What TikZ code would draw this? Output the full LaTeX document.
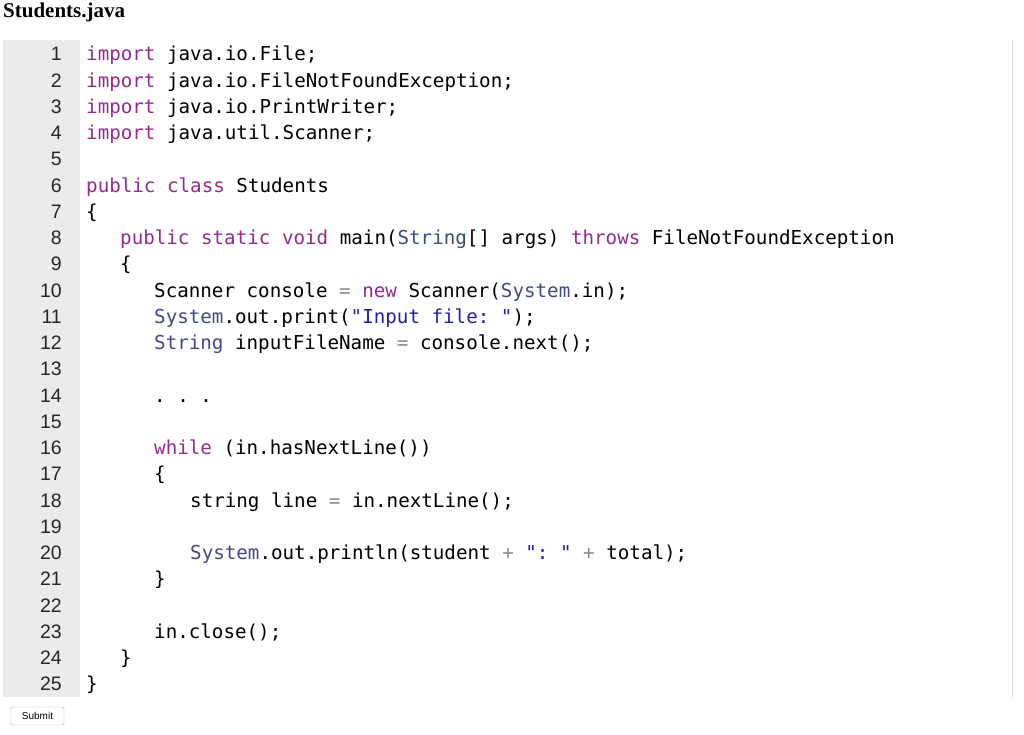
\documentclass[tikz,border=0pt]{standalone}
\usepackage{fontspec}
\setmainfont{Liberation Serif}
\setsansfont{Liberation Sans}
\setmonofont{DejaVu Sans Mono}
\definecolor{kw}{HTML}{932C8C}
\definecolor{ty}{HTML}{3F4E80}
\definecolor{st}{HTML}{2323A0}
\definecolor{op}{HTML}{8A8A8A}
\definecolor{gut}{HTML}{EBEBEB}
\newcommand{\kw}[1]{\textcolor{kw}{#1}}
\newcommand{\ty}[1]{\textcolor{ty}{#1}}
\newcommand{\stl}[1]{\textcolor{st}{#1}}
\newcommand{\opr}[1]{\textcolor{op}{#1}}
\begin{document}
\begin{tikzpicture}[x=1pt,y=1pt,
  code/.style={anchor=base west,inner sep=0pt,font=\ttfamily\fontsize{19.2}{20}\selectfont},
  num/.style={anchor=base east,inner sep=0pt,font=\sffamily\fontsize{19.5}{20}\selectfont,text=black!85}]
\useasboundingbox (0,0) rectangle (1024,735);
\fill[white] (0,0) rectangle (1024,735);
\node[anchor=base west,inner sep=0pt,font=\bfseries\fontsize{21}{22}\selectfont] (title) at (3,717) {Students.java};
\fill[gut] (3,38) rectangle (80,695);
\draw[black!15] (1012,38) -- (1012,695);
\foreach \i in {1,...,25} {
  \node[num] (n\i) at (62,{735-61-(\i-1)*26.25}) {\i};
}
\def\Y#1{{735-61-(#1-1)*26.25}}
\node[code] (l1) at (86,\Y{1}) {\kw{import} java.io.File;};
\node[code] (l2) at (86,\Y{2}) {\kw{import} java.io.FileNotFoundException;};
\node[code] (l3) at (86,\Y{3}) {\kw{import} java.io.PrintWriter;};
\node[code] (l4) at (86,\Y{4}) {\kw{import} java.util.Scanner;};
\node[code] (l6) at (86,\Y{6}) {\kw{public class} Students};
\node[code] (l7) at (86,\Y{7}) {\{};
\node[code] (l8) at (120,\Y{8}) {\kw{public static void} main(\ty{String}[] args) \kw{throws} FileNotFoundException};
\node[code] (l9) at (120,\Y{9}) {\{};
\node[code] (l10) at (154,\Y{10}) {Scanner console \opr{=} \kw{new} Scanner(\ty{System}.in);};
\node[code] (l11) at (154,\Y{11}) {\ty{System}.out.print(\stl{"Input file: "});};
\node[code] (l12) at (154,\Y{12}) {\ty{String} inputFileName \opr{=} console.next();};
\node[code] (l14) at (154,\Y{14}) {. . .};
\node[code] (l16) at (154,\Y{16}) {\kw{while} (in.hasNextLine())};
\node[code] (l17) at (154,\Y{17}) {\{};
\node[code] (l18) at (190,\Y{18}) {string line \opr{=} in.nextLine();};
\node[code] (l20) at (190,\Y{20}) {\ty{System}.out.println(student \opr{+} \stl{": "} \opr{+} total);};
\node[code] (l21) at (154,\Y{21}) {\}};
\node[code] (l23) at (154,\Y{23}) {in.close();};
\node[code] (l24) at (120,\Y{24}) {\}};
\node[code] (l25) at (86,\Y{25}) {\}};
\draw[black!30,fill=white,rounded corners=2pt] (11,10) rectangle (64,28);
\node[inner sep=0pt,font=\sffamily\fontsize{10}{11}\selectfont] (submit) at (37.5,19) {Submit};
\end{tikzpicture}
\end{document}
